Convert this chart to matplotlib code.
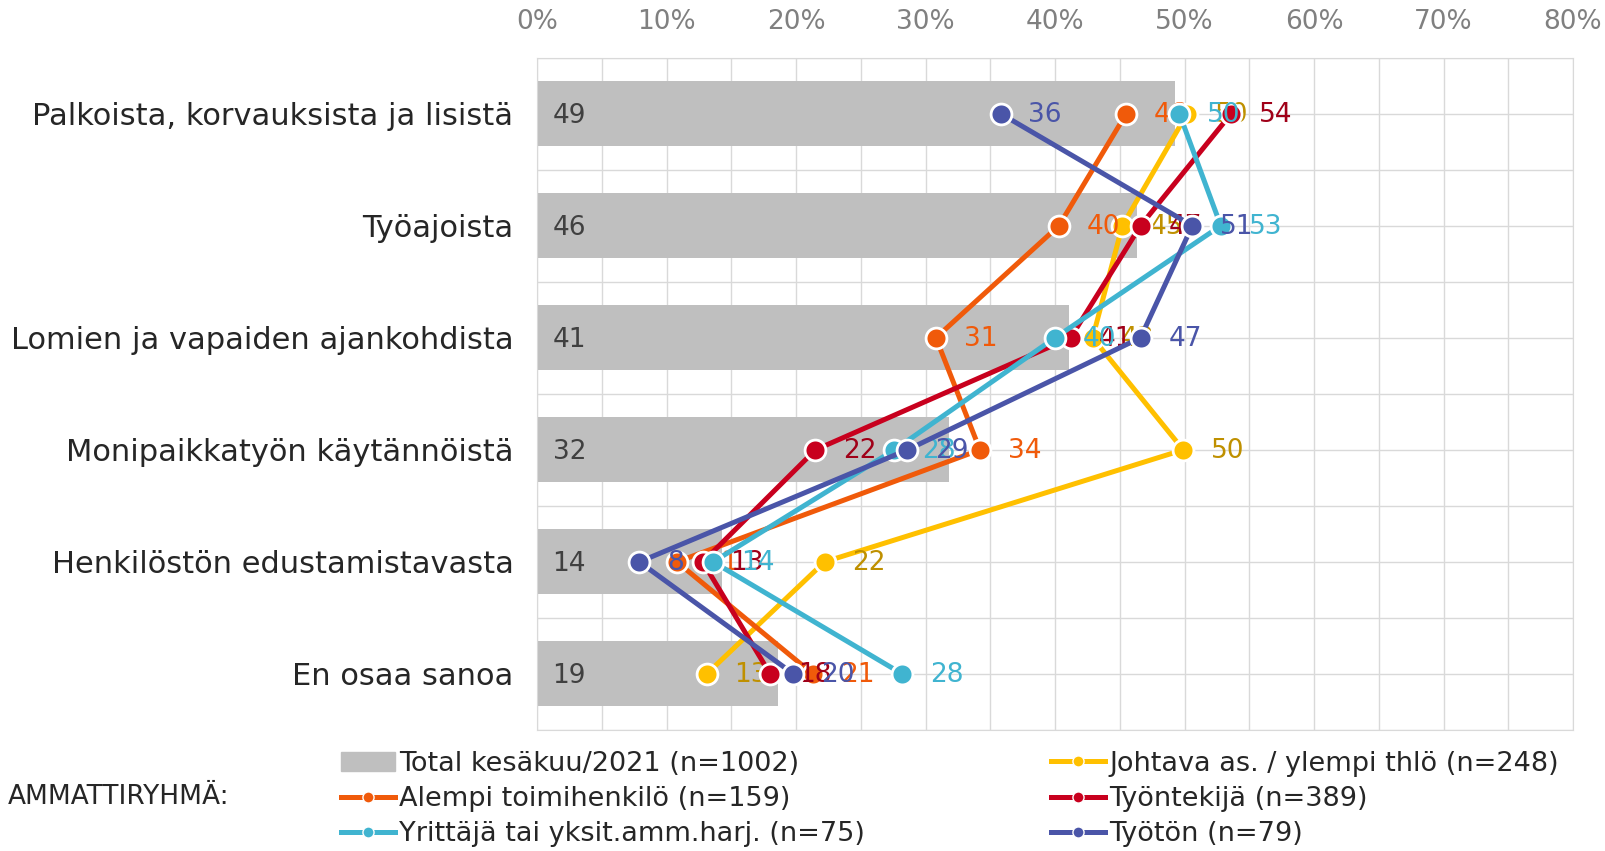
import matplotlib.pyplot as plt
from matplotlib.lines import Line2D
import matplotlib.patches as mpatches
import numpy as np

# Data
categories = [
    "Palkoista, korvauksista ja lisistä",
    "Työajoista",
    "Lomien ja vapaiden ajankohdista",
    "Monipaikkatyön käytännöistä",
    "Henkilöstön edustamistavasta",
    "En osaa sanoa",
]
total = [49.3, 46.3, 41.1, 31.8, 14.3, 18.6]
johtava = [50.2, 45.2, 42.9, 49.9, 22.2, 13.1]
alempi = [45.5, 40.3, 30.8, 34.2, 10.8, 21.3]
tyontekija = [53.6, 46.6, 41.2, 21.5, 12.8, 18.0]
yrittaja = [49.6, 52.8, 40.0, 27.6, 13.6, 28.2]
tyoton = [35.8, 50.6, 46.6, 28.6, 7.9, 19.8]

total_label = "Total kesäkuu/2021 (n=1002)"
series = [
    ("Johtava as. / ylempi thlö (n=248)", johtava, "#FFC000", "#BF9000"),
    ("Alempi toimihenkilö (n=159)", alempi, "#F05A0A", "#F05A0A"),
    ("Työntekijä (n=389)", tyontekija, "#C8001E", "#A00018"),
    ("Yrittäjä tai yksit.amm.harj. (n=75)", yrittaja, "#40B4D0", "#40B4D0"),
    ("Työtön (n=79)", tyoton, "#4A55A8", "#4A55A8"),
]

plt.rcParams["font.family"] = "DejaVu Sans"

fig = plt.figure(figsize=(16.05, 8.51), dpi=100)
ax = fig.add_axes([0.3346, 0.1422, 0.6455, 0.7901])

y = np.arange(len(categories))

# Bars
ax.barh(y, total, height=0.58, color="#BFBFBF", zorder=2)
for yi, v in zip(y, total):
    ax.text(1.2, yi + 0.02, f"{v:.0f}", va="center", ha="left", fontsize=19,
            color="#404040", zorder=3)

# Lines
z = 4
for name, vals, col, lcol in series:
    ax.plot(vals, y, "-", color=col, lw=3.6, zorder=z)
    ax.plot(vals, y, "o", color=col, ms=15, mec="white", mew=2, zorder=z + 1)
    for yi, v in zip(y, vals):
        ax.annotate(f"{v:.0f}", (v, yi), xytext=(20, -1), textcoords="offset points",
                    va="center", ha="left", fontsize=19, color=lcol, zorder=z + 1)
    z += 2

ax.set_xlim(0, 80)
ax.set_ylim(len(categories) - 0.5, -0.5)

ax.xaxis.tick_top()
ax.set_xticks(np.arange(0, 81, 10))
ax.set_xticklabels([f"{t}%" for t in range(0, 81, 10)], fontsize=19, color="#808080")
ax.set_xticks(np.arange(0, 81, 5), minor=True)
ax.set_yticks(y)
ax.set_yticklabels(categories, fontsize=22, color="#262626")
ax.set_yticks(np.arange(-0.5, len(categories)), minor=True)
ax.tick_params(axis="both", which="both", length=0)
ax.tick_params(axis="x", pad=16)
ax.tick_params(axis="y", pad=17)

ax.grid(True, which="both", color="#D9D9D9", lw=1, zorder=0)
ax.set_axisbelow(True)
for s in ax.spines.values():
    s.set_color("#D9D9D9")

# Legend
def lh(col):
    return Line2D([0], [0], color=col, lw=3.6, marker="o", ms=8, mec="white", mew=1)

kw = dict(frameon=False, fontsize=19.5, handlelength=2.0, handletextpad=0.15,
          labelspacing=0.34, borderpad=0, borderaxespad=0, labelcolor="#262626")
leg1 = fig.legend([mpatches.Patch(color="#BFBFBF"), lh(series[1][2]), lh(series[3][2])],
                  [total_label, series[1][0], series[3][0]],
                  loc="center left", bbox_to_anchor=(0.2125, 0.061), **kw)
leg2 = fig.legend([lh(series[0][2]), lh(series[2][2]), lh(series[4][2])],
                  [series[0][0], series[2][0], series[4][0]],
                  loc="center left", bbox_to_anchor=(0.655, 0.061), **kw)
fig.text(0.005, 0.064, "AMMATTIRYHMÄ:", fontsize=19, color="#262626", va="center")

fig.savefig("out.png", dpi=100)
